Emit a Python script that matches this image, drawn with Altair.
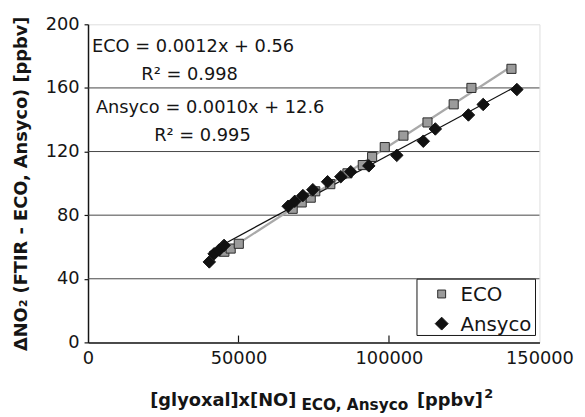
import altair as alt
import pandas as pd

# ---------------- data ----------------
series_names = ["ECO", "Ansyco"]
eco_x = [45300, 47400, 50100, 68000, 71000, 74000, 75500, 80500, 86200, 91300,
         94400, 98600, 104800, 112800, 121500, 127400, 140700]
eco_y = [57, 59, 62, 84, 88, 91, 95, 99.5, 106.3, 111.5,
         116.6, 122.8, 130, 138.3, 149.7, 160, 172]
ans_x = [40300, 41900, 43500, 45200, 66500, 68700, 71400, 74700, 79600, 84000,
         87300, 93300, 102600, 111400, 115400, 126400, 131300, 142500]
ans_y = [50.6, 55.7, 58, 61, 85.6, 88.7, 92.3, 96, 101, 104.2,
         107.3, 111, 117.6, 126.5, 134.2, 143, 149.6, 159]
x_ticks = [0, 50000, 100000, 150000]
x_inner_ticks = [50000, 100000]
y_ticks = [0, 40, 80, 120, 160, 200]
grid_values = [40, 80, 120, 160]
eq_texts = ["ECO = 0.0012x + 0.56", "R² = 0.998", "Ansyco = 0.0010x + 12.6", "R² = 0.995"]
y_title = "ΔNO₂ (FTIR - ECO, Ansyco) [ppbv]"
x_title_parts = ["[glyoxal]x[NO]", "ECO, Ansyco", "[ppbv]", "2"]

df = pd.concat([
    pd.DataFrame({"x": eco_x, "y": eco_y, "series": "ECO"}),
    pd.DataFrame({"x": ans_x, "y": ans_y, "series": "Ansyco"}),
], ignore_index=True)

FONT = "DejaVu Sans"
INK = "#151515"

xscale = alt.Scale(domain=[0, 150000], nice=False, zero=False)
yscale = alt.Scale(domain=[0, 200], nice=False, zero=False)

xaxis = alt.Axis(values=x_ticks, format="d", ticks=False, grid=False, title=None,
                 labelFont=FONT, labelFontSize=18, labelColor=INK, labelPadding=7,
                 labelFlush=False, domainColor=INK, domainWidth=1.5, labelOverlap=False)
yaxis = alt.Axis(values=y_ticks, grid=False, title=y_title, tickSize=4, tickColor=INK,
                 tickWidth=1.2, labelFont=FONT, labelFontSize=18, labelColor=INK,
                 labelPadding=5, domainColor=INK, domainWidth=1.5,
                 titleFont=FONT, titleFontSize=18, titleFontWeight="bold", titleColor=INK,
                 titleAngle=270, titleX=-67, titleY=161, titleAlign="center",
                 titleBaseline="middle")

X = lambda f: alt.X(f, type="quantitative", scale=xscale, axis=xaxis)
Y = lambda f: alt.Y(f, type="quantitative", scale=yscale, axis=yaxis)

shape_scale = alt.Scale(domain=series_names, range=["square", "diamond"])
fill_scale = alt.Scale(domain=series_names, range=["#9b9b9b", "#111111"])
stroke_scale = alt.Scale(domain=series_names, range=["#2a2a2a", "#111111"])
size_scale = alt.Scale(domain=series_names, range=[85, 160])

grid = alt.Chart(pd.DataFrame({"g": grid_values})).mark_rule(
    color="#444444", strokeWidth=1).encode(y=Y("g"))

inner_ticks = alt.Chart(pd.DataFrame({"t": x_inner_ticks, "y0": 0, "y1": 4.3})).mark_rule(
    color=INK, strokeWidth=1.2).encode(x=X("t"), y=Y("y0"), y2="y1:Q")

lines = alt.Chart(df).transform_regression(
    "x", "y", groupby=["series"]).mark_line().encode(
    x=X("x"), y=Y("y"),
    color=alt.Color("series:N", scale=alt.Scale(domain=series_names, range=["#a9a9a9", "#111111"]), legend=None),
    strokeWidth=alt.StrokeWidth("series:N", scale=alt.Scale(domain=series_names, range=[2.2, 1.3]), legend=None),
)

points = alt.Chart(df).mark_point(filled=True, opacity=1, strokeWidth=1).encode(
    x=X("x"), y=Y("y"),
    shape=alt.Shape("series:N", scale=shape_scale, legend=None),
    fill=alt.Fill("series:N", scale=fill_scale, legend=None),
    stroke=alt.Stroke("series:N", scale=stroke_scale, legend=None),
    size=alt.Size("series:N", scale=size_scale, legend=None),
)

# ---- legend box (drawn from the series list) ----
leg_df = pd.DataFrame({"series": series_names, "row": [0, 1]})
leg_y = alt.Y("row:Q", scale=alt.Scale(domain=[0, 1], range=[273, 303]), axis=None)
leg_box = alt.Chart(pd.DataFrame({"a": [0]})).mark_rect(
    fill="white", stroke=INK, strokeWidth=1).encode(
    x=alt.value(333), x2=alt.value(453), y=alt.value(258), y2=alt.value(315))
leg_sym = alt.Chart(leg_df).mark_point(filled=True, opacity=1, strokeWidth=1).encode(
    x=alt.value(358), y=leg_y,
    shape=alt.Shape("series:N", scale=shape_scale, legend=None),
    fill=alt.Fill("series:N", scale=fill_scale, legend=None),
    stroke=alt.Stroke("series:N", scale=stroke_scale, legend=None),
    size=alt.Size("series:N", scale=alt.Scale(domain=series_names, range=[64, 170]), legend=None),
)
leg_lab = alt.Chart(leg_df).mark_text(
    font=FONT, fontSize=20, color=INK, align="left", baseline="alphabetic", dy=7).encode(
    x=alt.value(377), y=leg_y, text="series:N",
)
legend = alt.layer(leg_box, leg_sym, leg_lab).resolve_scale(y="shared", size="independent")

def txt(s, x, y, size=18, weight="normal", align="left"):
    return alt.Chart(pd.DataFrame({"t": [s]})).mark_text(
        font=FONT, fontSize=size, fontWeight=weight, color=INK, align=align,
        baseline="alphabetic").encode(text="t:N", x=alt.value(x), y=alt.value(y))

ann = [
    txt(eq_texts[0], 4, 28),
    txt(eq_texts[1], 54, 56),
    txt(eq_texts[2], 8, 90),
    txt(eq_texts[3], 67, 118),
]

tx = [
    txt(x_title_parts[0], 63, 386, 18, "bold"),
    txt(x_title_parts[1], 216, 390, 15.5, "bold"),
    txt(x_title_parts[2], 333, 386, 18, "bold"),
    txt(x_title_parts[3], 401, 378, 13, "bold"),
]

main = alt.layer(grid, inner_ticks, lines, points, *ann, *tx)
chart = alt.layer(main, legend).resolve_scale(y="independent", size="independent").properties(
    width=457, height=322,
    autosize=alt.AutoSizeParams(type="none"),
    padding={"left": 81, "top": 14, "right": 38, "bottom": 72},
).configure_view(stroke=INK, strokeWidth=1.5).configure(font=FONT, background="white")

chart.save("out.html", embed_options={"renderer": "svg", "actions": False})
